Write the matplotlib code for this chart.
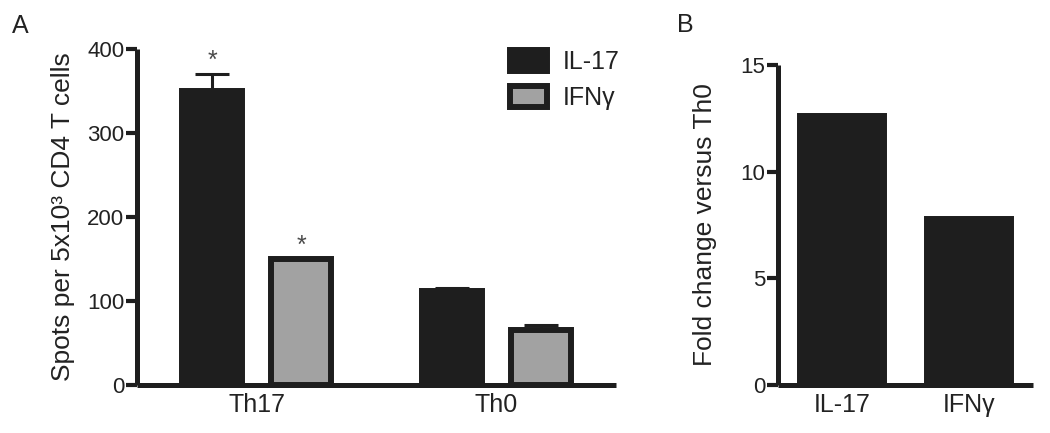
import matplotlib
matplotlib.use("Agg")
import matplotlib.pyplot as plt
import numpy as np

plt.rcParams['font.family'] = ['Liberation Sans', 'DejaVu Sans']

# ---- data ----
groups = ["Th17", "Th0"]
series = ["IL-17", "IFNγ"]
il17_mean = [350, 112]
il17_err = [20, 3]
ifng_mean = [150, 65]
ifng_err = [0, 6]
sig_il17 = [True, False]
sig_ifng = [True, False]

fold_labels = ["IL-17", "IFNγ"]
fold_values = [12.6, 7.8]

DARK = "#1e1e1e"
GRAY = "#a2a2a2"
TXT = "#222222"
EW = 4.3

fig = plt.figure(figsize=(10.5, 4.33), dpi=100)
W, H = 1050, 433

def add_axes_px(l, r, b, t):
    return fig.add_axes([l / W, 1 - b / H, (r - l) / W, (b - t) / H])

def style(ax):
    for s in ["top", "right"]:
        ax.spines[s].set_visible(False)
    for s in ["left", "bottom"]:
        ax.spines[s].set_linewidth(3.6)
        ax.spines[s].set_color(DARK)
        ax.spines[s].set_capstyle("butt")
    ax.tick_params(axis="y", direction="out", length=8, width=3, color=DARK,
                   pad=1, labelsize=16, labelcolor=TXT)
    ax.tick_params(axis="x", length=0, pad=6, labelsize=18, labelcolor=TXT)

# ---- Panel A ----
axA = add_axes_px(137, 616, 385, 49)
x = np.arange(len(groups))
w = 0.25
off = 0.186
bA1 = axA.bar(x - off, il17_mean, w, color=DARK, edgecolor=DARK, linewidth=EW,
              label=series[0], zorder=2)
bA2 = axA.bar(x + off, ifng_mean, w, color=GRAY, edgecolor=DARK, linewidth=EW,
              label=series[1], zorder=2)
for xi, m, e in zip(x - off, il17_mean, il17_err):
    axA.errorbar(xi, m, yerr=[[0], [e]], fmt="none", ecolor=DARK, elinewidth=2.2,
                 capsize=12, capthick=2.2, zorder=1)
for xi, m, e in zip(x + off, ifng_mean, ifng_err):
    axA.errorbar(xi, m, yerr=[[0], [e]], fmt="none", ecolor=DARK, elinewidth=2.2,
                 capsize=12, capthick=2.2, zorder=1)
for xi, m, e, s in zip(x - off, il17_mean, il17_err, sig_il17):
    if s:
        axA.annotate("*", (xi, m + e), xytext=(0, 1), textcoords="offset points",
                     ha="center", va="bottom", fontsize=18, color="#4a4a4a")
for xi, m, e, s in zip(x + off, ifng_mean, ifng_err, sig_ifng):
    if s:
        axA.annotate("*", (xi, m + e), xytext=(0, 1), textcoords="offset points",
                     ha="center", va="bottom", fontsize=18, color="#4a4a4a")
axA.set_xlim(-0.5, 1.5)
axA.set_ylim(0, 400)
axA.set_yticks([0, 100, 200, 300, 400])
axA.set_xticks(x)
axA.set_xticklabels(groups)
style(axA)
axA.set_ylabel("Spots per 5x10³ CD4 T cells", fontsize=19, color=TXT)
axA.yaxis.set_label_coords(-0.129, 0.5)

leg = fig.legend(handles=[bA1, bA2], labels=series, loc="upper left",
                 bbox_to_anchor=(510 / W, 1 - 50 / H), frameon=False,
                 fontsize=18, handlelength=1.48, handleheight=0.92,
                 labelspacing=0.48, handletextpad=0.64, borderpad=0,
                 borderaxespad=0)
for t in leg.get_texts():
    t.set_color(TXT)

# ---- Panel B ----
axB = add_axes_px(778, 1033, 385, 65)
xb = np.arange(len(fold_labels))
axB.bar(xb, fold_values, 0.66, color=DARK, edgecolor=DARK, linewidth=EW, zorder=2)
axB.set_xlim(-0.5, 1.5)
axB.set_ylim(0, 15)
axB.set_yticks([0, 5, 10, 15])
axB.set_xticks(xb)
axB.set_xticklabels(fold_labels)
style(axB)
axB.set_ylabel("Fold change versus Th0", fontsize=19, color=TXT)
axB.yaxis.set_label_coords(-0.239, 0.5)

fig.text(12 / W, 1 - 33 / H, "A", fontsize=18, color=TXT, ha="left", va="baseline")
fig.text(677 / W, 1 - 32 / H, "B", fontsize=18, color=TXT, ha="left", va="baseline")

fig.savefig("out.png", dpi=100)
